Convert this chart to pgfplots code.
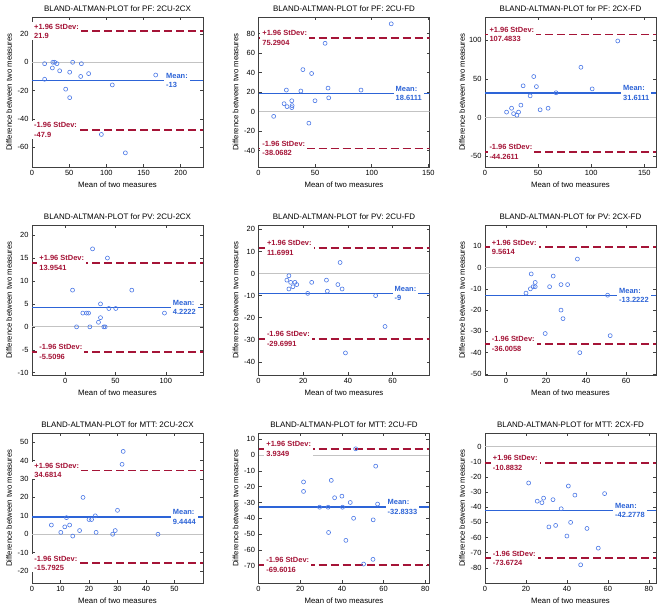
\documentclass[border=0pt]{standalone}
\usepackage{fontspec}
\setmainfont{Liberation Sans}
\usepackage{pgfplots}
\pgfplotsset{compat=1.18}
\definecolor{bablue}{RGB}{45,100,215}
\definecolor{bamark}{RGB}{75,120,230}
\definecolor{bared}{RGB}{165,20,55}
\definecolor{bagray}{RGB}{195,195,195}
\tikzset{
  lbl/.style={anchor=west, fill=white, text=bared, font=\bfseries\fontsize{7.5}{9.5}\selectfont, align=left, inner xsep=2bp, inner ysep=1.5bp},
  mlbl/.style={lbl, text=bablue},
}
\pgfplotsset{
  ba/.style={
    scale only axis, width=171bp, height=150bp,
    anchor=north west,
    tick align=inside, major tick length=3bp,
    axis line style={black!75, line width=0.6bp},
    every tick/.style={black!75, line width=0.5bp},
    tick label style={font=\fontsize{7.5}{9}\selectfont},
    yticklabel={\pgfmathparse{int(round(\tick))}\pgfmathresult},
    xticklabel={\pgfmathparse{int(round(\tick))}\pgfmathresult},
    label style={font=\fontsize{7.8}{9}\selectfont},
    every axis title/.style={font=\fontsize{8}{9}\selectfont, at={(axis description cs:0.5,1)}, anchor=base, yshift=5.5bp},
    xlabel style={at={(axis description cs:0.5,-0.12)}, anchor=center},
    ylabel style={at={(axis description cs:-0.1345,0.5)}, anchor=center},
    xlabel={Mean of two measures},
    ylabel={Difference between two measures},
  },
  zeroline/.style={bagray, line width=1bp, forget plot},
  meanline/.style={bablue, line width=1.3bp, forget plot},
  limline/.style={bared, line width=1.6bp, dash pattern=on 8bp off 4bp, forget plot},
  pts/.style={only marks, mark=o, mark size=2bp, bamark, mark options={line width=0.6bp}},
}
% #1 xmin #2 xmax #3 upper #4 lower #5 mean
\newcommand{\BAlines}[5]{%
  \addplot[zeroline] coordinates {(#1,0) (#2,0)};
  \addplot[meanline] coordinates {(#1,#5) (#2,#5)};
  \addplot[limline] coordinates {(#1,#3) (#2,#3)};
  \addplot[limline] coordinates {(#1,#4) (#2,#4)};
}
% #1 left shift #2 upper #3 lower #4 mean shift #5 mean
\newcommand{\BAlabels}[5]{%
  \node[lbl, xshift=#1bp] at ({rel axis cs:0,0}|-{axis cs:0,#2}) {+1.96 StDev:\\#2};
  \node[lbl, xshift=#1bp] at ({rel axis cs:0,0}|-{axis cs:0,#3}) {-1.96 StDev:\\#3};
  \node[mlbl, xshift=#4bp] at ({rel axis cs:0,0}|-{axis cs:0,#5}) {Mean:\\#5};
}
\begin{document}
\begin{tikzpicture}
\useasboundingbox (0,0) rectangle (660bp,-604bp);
% ---------- Row 1: PF ----------
\begin{axis}[ba, at={(32bp,-17bp)}, title={BLAND-ALTMAN-PLOT for PF: 2CU-2CX},
  xmin=0, xmax=230, ymin=-74, ymax=32, xtick={0,50,100,150,200}, ytick={-60,-40,-20,0,20}]
\BAlines{0}{230}{21.9}{-47.9}{-13}
\addplot[pts] coordinates {(17,-1) (17,-12) (28,0) (30.5,0) (27.4,-4) (33.6,-1) (37.2,-6) (45.3,-19) (50.7,-7) (50.7,-25) (54.7,0) (65.5,-10) (66.4,-1) (76.2,-8) (93.3,-51) (108,-16) (125.6,-64) (166.4,-9)};
\BAlabels{0}{21.9}{-47.9}{132}{-13}
\end{axis}
\begin{axis}[ba, at={(258.5bp,-17bp)}, title={BLAND-ALTMAN-PLOT for PF: 2CU-FD},
  xmin=0, xmax=151, ymin=-57, ymax=97, xtick={0,50,100,150}, ytick={-40,-20,0,20,40,60,80}]
\BAlines{0}{151}{75.2904}{-38.0682}{18.6111}
\addplot[pts] coordinates {(13.4,-5) (22.6,8) (24.6,22) (25.2,5) (29.4,11) (29.7,6) (29.4,4) (37.4,21) (39.2,43) (44.5,-12) (46.9,39) (49.9,11) (58.8,70) (61.4,24) (62,14) (90.5,22) (117.2,90)};
\BAlabels{1.7}{75.2904}{-38.0682}{135}{18.6111}
\end{axis}
\begin{axis}[ba, at={(485bp,-17bp)}, title={BLAND-ALTMAN-PLOT for PF: 2CX-FD},
  xmin=0, xmax=161, ymin=-64, ymax=130, xtick={0,50,100,150}, ytick={-50,0,50,100}]
\BAlines{0}{161}{107.4833}{-44.2611}{31.6111}
\addplot[pts] coordinates {(20.3,7) (25,12) (26.9,5) (30,3) (31.6,7) (33.8,16) (35.9,41) (42.5,28) (45.9,53) (48.4,40) (51.9,10) (59.4,12) (66.9,32) (90.3,65) (100.9,37) (125,99)};
\BAlabels{2.3}{107.4833}{-44.2611}{136}{31.6111}
\end{axis}
% ---------- Row 2: PV ----------
\begin{axis}[ba, at={(32bp,-225bp)}, title={BLAND-ALTMAN-PLOT for PV: 2CU-2CX},
  xmin=-33, xmax=137, ymin=-10.5, ymax=22.2, xtick={0,50,100}, ytick={-10,-5,0,5,10,15,20}]
\BAlines{-33}{137}{13.9541}{-5.5096}{4.2222}
\addplot[pts] coordinates {(7.3,8) (11.3,0) (17.5,3) (21.2,3) (23.2,3) (24.5,0) (27.2,17) (33.1,1) (35.1,5) (35.1,2) (38.4,0) (39.7,0) (42,15) (43.4,4) (50.3,4) (66.2,8) (98.7,3)};
\BAlabels{5.3}{13.9541}{-5.5096}{138.7}{4.2222}
\end{axis}
\begin{axis}[ba, at={(258.5bp,-225bp)}, title={BLAND-ALTMAN-PLOT for PV: 2CU-FD},
  xmin=0, xmax=76.5, ymin=-46, ymax=22, xtick={0,20,40,60}, ytick={-40,-30,-20,-10,0,10,20}]
\BAlines{0}{76.5}{11.6991}{-29.6991}{-9}
\addplot[pts] coordinates {(12.7,-3) (13.6,-1) (13.6,-7) (14.4,-4) (15.4,-6) (16.3,-4) (17.1,-5) (22,-9) (23.8,-4) (30.4,-3) (30.8,-8) (35.5,-5) (36.5,5) (37.4,-7) (52.4,-10) (56.6,-24) (38.9,-36)};
\BAlabels{6.3}{11.6991}{-29.6991}{134}{-9}
\end{axis}
\begin{axis}[ba, at={(485bp,-225bp)}, title={BLAND-ALTMAN-PLOT for PV: 2CX-FD},
  xmin=-10.5, xmax=75, ymin=-50.5, ymax=20, xtick={0,20,40,60}, ytick={-50,-40,-30,-20,-10,0,10}]
\BAlines{-10.5}{75}{9.5614}{-36.0058}{-13.2222}
\addplot[pts] coordinates {(10,-12) (12.2,-10) (12.6,-3) (13.6,-9) (14.6,-9) (14.6,-7) (19.6,-31) (21.8,-9) (23.6,-4) (27.5,-8) (27.5,-20) (28.5,-24) (30.8,-8) (35.7,4) (36.9,-40) (50.8,-13) (52.1,-32)};
\BAlabels{4.7}{9.5614}{-36.0058}{132}{-13.2222}
\end{axis}
% ---------- Row 3: MTT ----------
\begin{axis}[ba, at={(32bp,-433bp)}, title={BLAND-ALTMAN-PLOT for MTT: 2CU-2CX},
  xmin=0, xmax=60, ymin=-26.5, ymax=55, xtick={0,10,20,30,40,50}, ytick={-20,-10,0,10,20,30,40,50}]
\BAlines{0}{60}{34.6814}{-15.7925}{9.4444}
\addplot[pts] coordinates {(6.8,5) (10.1,1) (11.5,4) (12.1,9) (13.2,5) (14.3,-1) (16.7,2) (17.9,20) (20,8) (20.9,8) (22.2,10) (22.5,1) (28.3,0) (29.2,2) (30,13) (31.6,38) (32,45) (44.2,0)};
\BAlabels{0.3}{34.6814}{-15.7925}{138.7}{9.4444}
\end{axis}
\begin{axis}[ba, at={(258.5bp,-433bp)}, title={BLAND-ALTMAN-PLOT for MTT: 2CU-FD},
  xmin=0, xmax=82, ymin=-81, ymax=14, xtick={0,20,40,60,80}, ytick={-70,-60,-50,-40,-30,-20,-10,0,10}]
\BAlines{0}{82}{3.9349}{-69.6016}{-32.8333}
\addplot[pts] coordinates {(21.6,-17) (21.6,-23) (29.3,-33) (33.4,-33) (33.6,-49) (34.9,-16) (36.5,-27) (40,-26) (40.3,-33) (41.9,-54) (44,-30) (45.6,-40) (46.6,4) (50.4,-69) (55,-41) (54.9,-66) (56.2,-7) (57.1,-31)};
\BAlabels{5.7}{3.9349}{-69.6016}{127}{-32.8333}
\end{axis}
\begin{axis}[ba, at={(485bp,-433bp)}, title={BLAND-ALTMAN-PLOT for MTT: 2CX-FD},
  xmin=0, xmax=83.5, ymin=-90, ymax=9, xtick={0,20,40,60,80}, ytick={-80,-70,-60,-50,-40,-30,-20,-10,0}]
\BAlines{0}{83.5}{-10.8832}{-73.6724}{-42.2778}
\addplot[pts] coordinates {(21.3,-24) (25.5,-36) (27.8,-37) (28.6,-34) (31.2,-53) (33.2,-35) (34.5,-52) (37.2,-41) (40,-59) (40.7,-26) (41.8,-50) (43.9,-32) (46.7,-78) (49.8,-54) (55.3,-67) (58.4,-31)};
\BAlabels{5.7}{-10.8832}{-73.6724}{128}{-42.2778}
\end{axis}
\end{tikzpicture}
\end{document}
